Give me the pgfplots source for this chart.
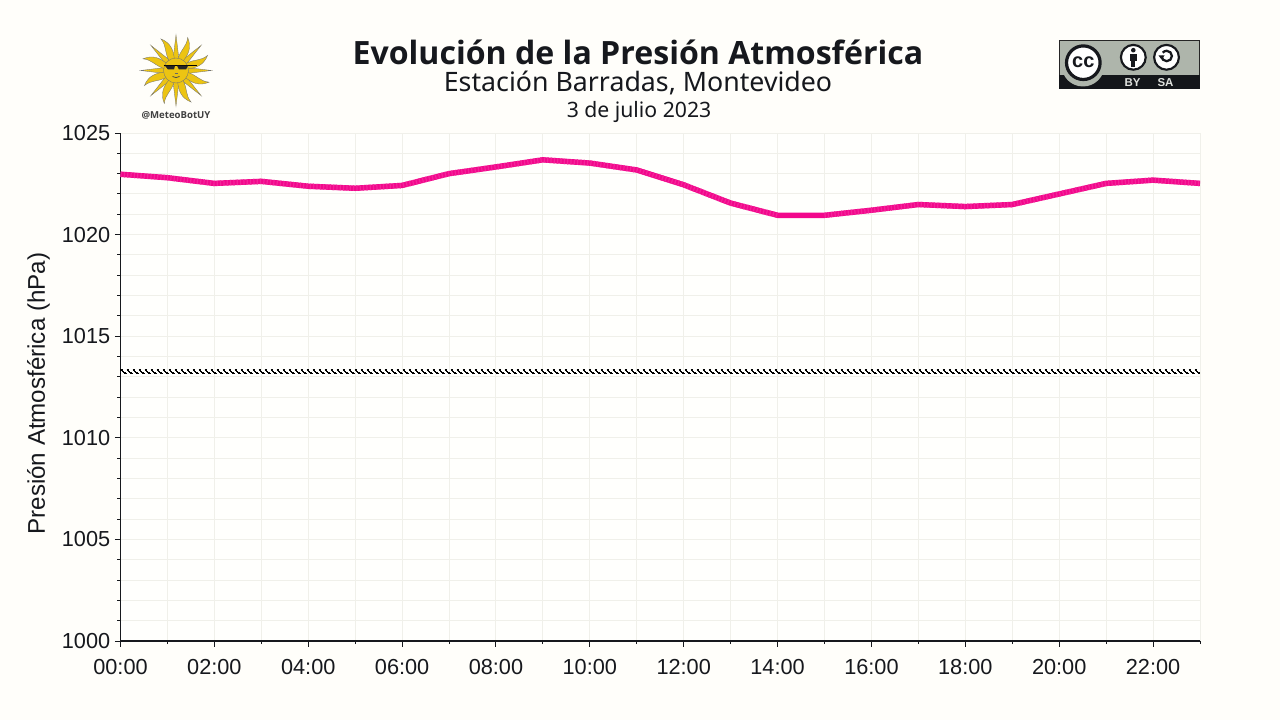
\documentclass[border=0pt]{standalone}
\usepackage{fontspec}
\setmainfont{Liberation Sans}
\newfontfamily\titlefont{Noto Sans}
\newfontfamily\titlebold{Open Sans}
\usepackage{pgfplots}
\pgfplotsset{compat=1.18}
\definecolor{bgc}{HTML}{FFFEFA}
\definecolor{plotc}{HTML}{FFFFFD}
\definecolor{gridc}{HTML}{F0F0EA}
\definecolor{txtc}{HTML}{16181D}
\definecolor{pinkc}{HTML}{F2078C}
\definecolor{pinkl}{HTML}{F3259A}
\definecolor{sunc}{HTML}{ECC412}
\definecolor{ccg}{HTML}{AEB5AB}
\pgfplotstableread{
h p
0 1022.97
1 1022.8
2 1022.52
3 1022.62
4 1022.38
5 1022.28
6 1022.42
7 1023.0
8 1023.33
9 1023.68
10 1023.52
11 1023.18
12 1022.45
13 1021.55
14 1020.95
15 1020.95
16 1021.2
17 1021.48
18 1021.38
19 1021.48
20 1022.0
21 1022.52
22 1022.68
23 1022.52
}\pres
\pgfplotstableread{
h p
0 1022.97
1 1022.8
2 1022.52
3 1022.62
4 1022.38
5 1022.28
6 1022.42
7 1023.0
8 1023.33
9 1023.68
10 1023.52
11 1023.18
12 1022.45
13 1021.55
14 1020.95
14.5 nan
15 1020.95
16 1021.2
17 1021.48
18 1021.38
19 1021.48
20 1022.0
21 1022.52
22 1022.68
23 1022.52
}\presb
\pgfplotstableread{
h p
0 1013.25
23 1013.25
}\refl
\def\px{0.75pt}
\begin{document}
\begin{tikzpicture}
\useasboundingbox (0,0) rectangle (960pt,-540pt);
\fill[bgc] (0,0) rectangle (960pt,-540pt);
\begin{axis}[
  at={(90.375pt,-480.75pt)}, anchor=south west, scale only axis,
  width=1079.5*\px, height=508*\px,
  xmin=0, xmax=23, ymin=1000, ymax=1025,
  axis background/.style={fill=plotc},
  axis lines*=left,
  axis line style={txtc,line width=0.85pt,-},
  clip=false,
  unbounded coords=jump,
  xtick={0,2,...,22},
  minor xtick={1,3,...,23},
  xticklabels={00:00,02:00,04:00,06:00,08:00,10:00,12:00,14:00,16:00,18:00,20:00,22:00},
  ytick={1000,1005,...,1025},
  minor ytick={1001,1002,1003,1004,1006,1007,1008,1009,1011,1012,1013,1014,1016,1017,1018,1019,1021,1022,1023,1024},
  grid=both,
  major grid style={gridc,line width=0.75pt},
  minor grid style={gridc,line width=0.75pt},
  tick style={txtc,line width=0.75pt},
  tick align=outside,
  major tick length=4.2pt,
  minor tick length=2.4pt,
  tick pos=left,
  tick label style={font=\fontsize{16.3pt}{18pt}\selectfont, text=txtc},
  /pgf/number format/assume math mode=true,
  /pgf/number format/set thousands separator={},
  xticklabel style={yshift=-6pt},
  ylabel={Presión Atmosférica (hPa)},
  ylabel style={font=\fontsize{18.1pt}{20pt}\selectfont, text=txtc, at={(ticklabel cs:0.487)}},
  ylabel shift=2.2pt,
]
\addplot[pinkc, line width=4.1pt, line join=round] table[x=h,y=p]{\pres};
\addplot[pinkl, line width=4.1pt, dash pattern=on 0.9pt off 1.6pt, forget plot] table[x=h,y=p]{\presb};
\addplot[black, line width=0.9pt, dash pattern=on 2pt off 2.5pt, dash phase=0pt,  forget plot, transform canvas={yshift=1.35pt}] table[x=h,y=p]{\refl};
\addplot[black, line width=0.9pt, dash pattern=on 2pt off 2.5pt, dash phase=-0.9pt,  forget plot, transform canvas={yshift=0.45pt}] table[x=h,y=p]{\refl};
\addplot[black, line width=0.9pt, dash pattern=on 2pt off 2.5pt, dash phase=-1.8pt,  forget plot, transform canvas={yshift=-0.45pt}] table[x=h,y=p]{\refl};
\addplot[black, line width=0.9pt, dash pattern=on 2pt off 2.5pt, dash phase=-2.7pt,  forget plot, transform canvas={yshift=-1.35pt}] table[x=h,y=p]{\refl};
\end{axis}
\begin{scope}[x=0.75pt,y=-0.75pt]
% titles
\node[font=\titlebold\bfseries\fontsize{24.07pt}{26pt}\selectfont, text=txtc] at (638,52.5) {Evolución de la Presión Atmosférica};
\node[font=\titlefont\fontsize{20.05pt}{22pt}\selectfont, text=txtc] at (638,83) {Estación Barradas, Montevideo};
\node[font=\titlefont\fontsize{15.9pt}{18pt}\selectfont, text=txtc] at (639,111.5) {3 de julio 2023};
% sun logo
\begin{scope}[shift={(176,70.5)}]
  \foreach \a in {0,45,...,315}{
    \fill[sunc,draw=black!55,line width=0.25pt] (\a-16:11) -- (\a:35.5) -- (\a+16:11) -- cycle;
  }
  \foreach \a in {22.5,67.5,...,337.5}{
    \fill[sunc,draw=black!55,line width=0.25pt] (\a-14:11) .. controls (\a-10:22) and (\a+2:26) .. (\a-3:35) .. controls (\a+12:28) and (\a+16:20) .. (\a+14:11) -- cycle;
  }
  \fill[sunc,draw=black!55,line width=0.25pt] (0,0) circle (12.5);
  \draw[black,line width=0.7pt] (-12.5,-4.8) -- (21,-4.8);
  \fill[black!85] (-11,-4.8) -- (-1,-4.8) -- (-2,-1) -- (-8,-1) -- cycle;
  \fill[black!85] (1,-4.8) -- (12,-4.8) -- (10,-1) -- (3,-1) -- cycle;
  \draw[black!70,line width=0.6pt] (-3.5,6) .. controls (-1,7.5) and (1,7.5) .. (3.5,6);
  \draw[black!60,line width=0.3pt] (-1.5,2.5) -- (1.5,2.5);
\end{scope}
\node[font=\titlebold\bfseries\fontsize{7.2pt}{8pt}\selectfont, text=black!75] at (176,115.5) {@MeteoBotUY};
% CC badge
\fill[ccg] (1059,40) rectangle (1200,89);
\draw[black!85,line width=0.6pt] (1059.4,75) -- (1059.4,40.4) -- (1199.6,40.4) -- (1199.6,75);
\fill[txtc!90!black] (1059,75) rectangle (1200,89);
\begin{scope}
 \clip (1059,40) rectangle (1200,89);
 \fill[ccg] (1083,65) circle (21.5);
\end{scope}
\fill[white,draw=txtc,line width=2.4pt] (1083.3,62.7) circle (16.8);
\node[font=\bfseries\fontsize{15pt}{16pt}\selectfont, text=txtc] at (1083.3,62.5) {cc};
\fill[white,draw=txtc,line width=1.6pt] (1133.3,57.3) circle (12.4);
\fill[txtc] (1133.3,50.2) circle (2.3);
\fill[txtc] (1129.8,54) rectangle (1136.8,61.5);
\fill[txtc] (1131.3,61) rectangle (1135.3,67);
\fill[white,draw=txtc,line width=1.6pt] (1166.5,57.3) circle (12.4);
\draw[txtc,line width=1.7pt] (1161.5,56) arc[start angle=180,end angle=-140,radius=5.2];
\fill[txtc] (1158.5,55.5) -- (1164.5,55.5) -- (1161.5,59.5) -- cycle;
\node[font=\bfseries\fontsize{8.6pt}{9pt}\selectfont, text=ccg!40!white] at (1132.5,82.2) {BY};
\node[font=\bfseries\fontsize{8.6pt}{9pt}\selectfont, text=ccg!40!white] at (1165.5,82.2) {SA};
\end{scope}
\end{tikzpicture}
\end{document}
